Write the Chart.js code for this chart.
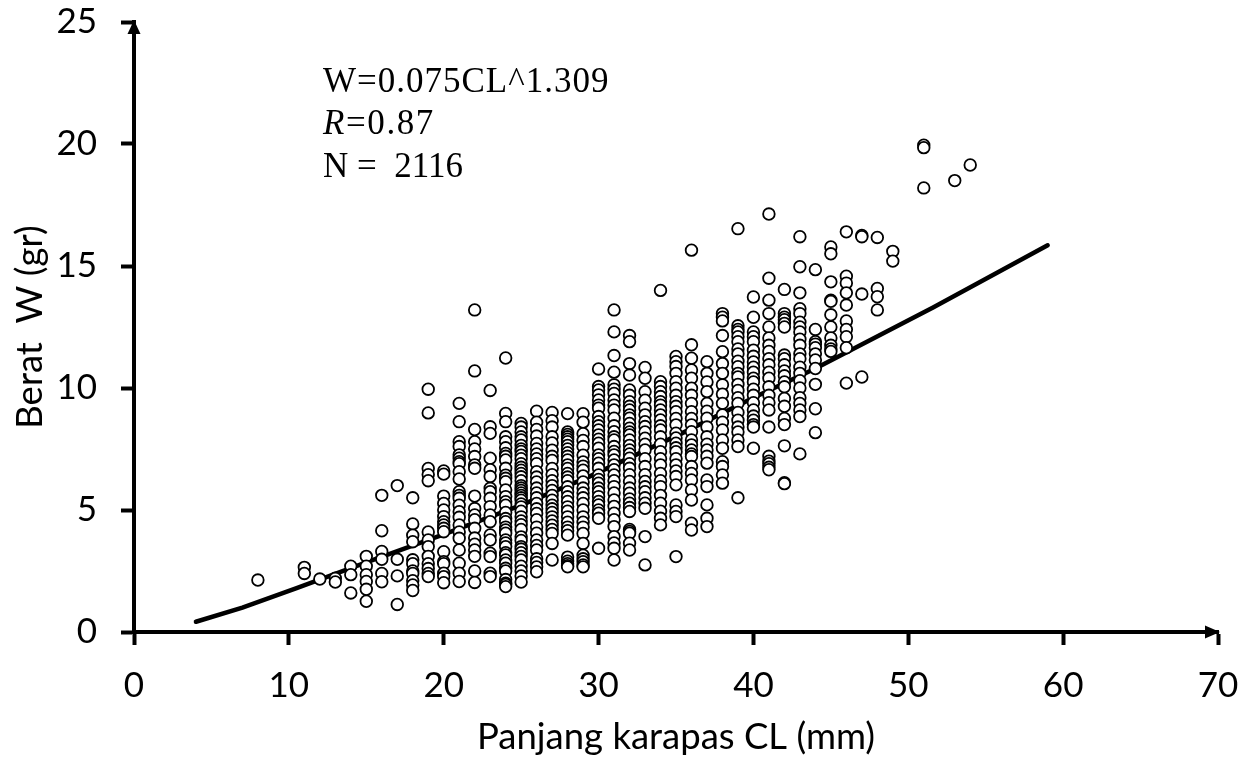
<!DOCTYPE html>
<html>
<head>
<meta charset="utf-8">
<title>Berat dan panjang karapas</title>
<script src="https://cdn.jsdelivr.net/npm/chart.js@4"></script>
<style>
    html, body { margin: 0; padding: 0; background: #fff; }
    #wrap { position: relative; width: 1239px; height: 759px; }
    canvas { display: block; }
    .note { position: absolute; left: 323px; font-family: "Liberation Serif", serif; font-size: 35px; line-height: 33px; color: #000; white-space: pre; }
</style>
</head>
<body>
<div id="wrap">
    <canvas id="lengthWeightChart" width="1239" height="759"></canvas>
    <div class="note" style="top:64px;letter-spacing:1px">W=0.075CL^1.309</div>
    <div class="note" style="top:106px;letter-spacing:1.6px"><i>R</i>=0.87</div>
    <div class="note" style="top:149px">N =  2116</div>
</div>
<script>
// CL columns, one weight list per carapace length
const lengths = [8, 11, 12, 13, 14, 15, 16, 17, 18, 19, 20, 21, 22, 23, 24, 25, 26, 27, 28, 29, 30, 31, 32, 33, 34, 35, 36, 37, 38, 39, 40, 41, 42, 43, 44, 45, 46, 47, 48, 49, 51, 53, 54];
const weights = [
    [2.13],
    [2.65, 2.4],
    [2.17],
    [2.2, 2.05],
    [2.7, 2.35, 1.6],
    [3.1, 2.7, 2.35, 2.07, 1.75, 1.26],
    [5.6, 4.15, 3.3, 2.98, 2.4, 2.06],
    [6.0, 2.98, 2.3, 1.13],
    [5.5, 4.43, 3.97, 3.7, 2.96, 2.8, 2.5, 2.4, 2.1, 1.93, 1.7],
    [9.95, 8.98, 6.7, 6.45, 6.2, 4.1, 3.77, 3.5, 3.1, 2.8, 2.6, 2.4, 2.27],
    [6.6, 6.47, 5.57, 5.27, 5.0, 4.73, 4.52, 4.39, 4.25, 4.11, 3.29, 2.88, 2.8, 2.41, 2.27, 2.02],
    [9.37, 8.62, 7.8, 7.6, 7.26, 7.12, 6.98, 6.9, 6.57, 6.27, 5.75, 5.6, 5.48, 5.2, 4.93, 4.7, 4.39, 4.1, 3.84, 3.36, 2.82, 2.41, 2.07],
    [13.2, 10.7, 8.3, 7.8, 7.5, 7.19, 6.85, 6.71, 5.57, 5.06, 4.8, 4.6, 4.25, 3.85, 3.6, 3.36, 3.1, 2.5, 2.03],
    [9.9, 8.41, 8.14, 7.12, 6.65, 6.37, 5.89, 5.75, 5.48, 5.14, 4.8, 4.52, 3.98, 3.77, 3.23, 3.09, 2.41, 2.27],
    [11.23, 8.96, 8.62, 8.0, 7.8, 7.55, 7.32, 7.2, 7.05, 6.71, 6.43, 6.3, 6.16, 5.82, 5.55, 5.34, 5.2, 4.9, 4.65, 4.52, 4.3, 4.18, 4.05, 3.77, 3.65, 3.5, 3.25, 3.16, 2.95, 2.82, 2.61, 2.5, 2.15, 2.0, 1.95, 1.86],
    [8.55, 8.4, 8.2, 8.0, 7.87, 7.65, 7.5, 7.4, 7.25, 7.1, 6.9, 6.75, 6.63, 6.5, 6.36, 6.2, 6.0, 5.9, 5.8, 5.7, 5.6, 5.5, 5.4, 5.25, 5.13, 4.95, 4.72, 4.55, 4.4, 4.2, 3.9, 3.75, 3.5, 3.4, 3.25, 3.1, 2.95, 2.7, 2.5, 2.3, 2.05],
    [9.05, 8.6, 8.3, 8.03, 7.73, 7.5, 7.3, 7.1, 6.9, 6.57, 6.35, 6.15, 5.9, 5.7, 5.5, 5.27, 5.05, 4.86, 4.6, 4.3, 4.05, 3.77, 3.55, 3.36, 3.0, 2.85, 2.67, 2.47],
    [9.0, 8.66, 8.4, 8.0, 7.75, 7.45, 7.2, 7.03, 6.7, 6.45, 6.2, 6.0, 5.8, 5.6, 5.4, 5.2, 5.05, 4.9, 4.72, 4.55, 4.38, 4.2, 4.04, 3.63, 2.95],
    [8.95, 8.2, 8.1, 8.0, 7.9, 7.8, 7.65, 7.5, 7.35, 7.2, 7.05, 6.85, 6.7, 6.5, 6.35, 6.2, 5.95, 5.75, 5.54, 5.35, 5.13, 4.95, 4.72, 4.5, 4.3, 4.15, 3.97, 3.07, 2.9, 2.8, 2.72, 2.67],
    [8.95, 8.6, 8.13, 7.85, 7.6, 7.25, 6.97, 6.8, 6.63, 6.4, 6.15, 5.9, 5.7, 5.5, 5.27, 5.0, 4.72, 4.5, 4.3, 4.04, 3.63, 3.15, 3.0, 2.88, 2.75, 2.67],
    [10.78, 10.06, 9.92, 9.72, 9.51, 9.3, 9.17, 8.83, 8.62, 8.45, 8.28, 8.08, 7.9, 7.74, 7.53, 7.26, 7.1, 6.92, 6.71, 6.44, 6.25, 6.1, 5.9, 5.75, 5.55, 5.35, 5.21, 5.0, 4.87, 4.66, 3.43],
    [13.2, 12.3, 11.33, 10.65, 10.13, 9.95, 9.78, 9.51, 9.3, 9.1, 8.76, 8.45, 8.21, 8.0, 7.87, 7.6, 7.4, 7.26, 7.05, 6.85, 6.65, 6.44, 6.2, 5.96, 5.7, 5.41, 5.15, 4.87, 4.6, 4.32, 3.91, 3.65, 3.43, 2.95],
    [12.15, 11.9, 11.0, 10.53, 9.92, 9.7, 9.44, 9.25, 9.1, 8.9, 8.76, 8.55, 8.35, 8.2, 8.08, 7.87, 7.65, 7.46, 7.3, 7.12, 6.9, 6.71, 6.45, 6.17, 5.9, 5.69, 5.45, 5.28, 5.1, 4.94, 4.2, 4.12, 4.05, 3.64, 3.36],
    [10.84, 10.4, 9.85, 9.5, 9.17, 8.9, 8.62, 8.42, 8.2, 7.94, 7.7, 7.46, 7.1, 6.78, 6.45, 6.17, 5.95, 5.75, 5.5, 5.28, 5.07, 3.91, 2.75],
    [14.0, 10.26, 10.06, 9.85, 9.65, 9.44, 9.3, 9.1, 8.9, 8.69, 8.45, 8.28, 8.0, 7.7, 7.39, 7.1, 6.85, 6.5, 6.2, 5.96, 5.6, 5.28, 4.95, 4.66, 4.39],
    [11.29, 11.08, 10.88, 10.6, 10.26, 9.99, 9.7, 9.44, 9.25, 9.03, 8.75, 8.49, 8.15, 7.95, 7.74, 7.55, 7.39, 7.1, 6.85, 6.6, 6.37, 6.03, 5.21, 4.94, 4.73, 3.09],
    [15.65, 11.77, 11.22, 10.74, 10.4, 9.99, 9.7, 9.37, 9.03, 8.75, 8.49, 8.21, 7.87, 7.67, 7.46, 7.3, 7.19, 6.78, 6.5, 6.23, 5.82, 5.41, 4.46, 4.18],
    [11.08, 10.6, 10.25, 9.85, 9.37, 9.05, 8.76, 8.4, 8.0, 7.7, 7.46, 7.2, 6.92, 6.23, 5.96, 5.21, 4.66, 4.32],
    [13.05, 12.9, 12.75, 12.15, 11.49, 11.0, 10.6, 10.13, 9.75, 9.37, 8.9, 8.6, 8.28, 7.87, 7.53, 6.98, 6.78, 6.44, 6.1],
    [16.53, 12.55, 12.4, 12.3, 12.1, 11.9, 11.6, 11.4, 11.1, 10.87, 10.6, 10.45, 10.15, 9.9, 9.6, 9.37, 9.0, 8.68, 8.4, 8.2, 7.87, 7.6, 5.5],
    [13.73, 12.9, 12.3, 12.1, 11.9, 11.55, 11.3, 11.07, 10.85, 10.65, 10.4, 10.25, 9.95, 9.7, 9.4, 9.1, 8.85, 8.68, 8.5, 8.4, 7.53],
    [17.13, 14.5, 13.6, 13.05, 12.5, 12.05, 11.75, 11.5, 11.2, 10.95, 10.65, 10.4, 10.05, 9.7, 9.4, 9.1, 8.4, 7.2, 7.0, 6.9, 6.75, 6.65],
    [14.04, 13.05, 12.9, 12.8, 12.65, 12.5, 11.35, 11.2, 10.95, 10.7, 10.5, 10.25, 10.05, 9.57, 9.25, 8.75, 8.5, 7.63, 6.12, 6.08],
    [16.2, 14.97, 13.9, 13.25, 13.05, 12.7, 12.5, 12.3, 12.0, 11.75, 11.4, 11.2, 10.85, 10.6, 10.3, 10.0, 9.6, 9.37, 9.1, 8.83, 7.3],
    [14.85, 12.4, 11.9, 11.8, 11.65, 11.4, 11.15, 10.8, 10.15, 9.15, 8.17],
    [15.78, 15.5, 14.35, 13.6, 13.55, 13.0, 12.5, 12.05, 11.75, 11.6, 11.5],
    [16.4, 14.58, 14.3, 13.9, 13.4, 12.75, 12.4, 12.1, 11.65, 10.2],
    [16.25, 16.2, 13.85, 10.45],
    [16.17, 14.08, 13.74, 13.2],
    [15.6, 15.2],
    [19.95, 19.85, 18.2],
    [18.5],
    [19.14]
];

// Fitted curve
const curveLengths = [4, 7, 10.5, 15, 20, 25, 29.4, 35.4, 40, 44, 51.6, 59];
const curveWeights = [0.42, 1.0, 1.8, 2.85, 4.0, 5.2, 6.37, 8.15, 9.6, 10.8, 13.3, 15.85];

const xTicks = [0, 10, 20, 30, 40, 50, 60, 70];
const yTicks = [0, 5, 10, 15, 20, 25];

const samplePoints = [];
lengths.forEach(function(cl, i) {
    weights[i].forEach(function(w) {
        samplePoints.push({ x: cl, y: w });
    });
});
const curvePoints = curveLengths.map(function(cl, i) {
    return { x: cl, y: curveWeights[i] };
});

// Arrow heads on the end of both axes
const axisArrows = {
    id: 'axisArrows',
    afterDraw: function(chart) {
        const c = chart.ctx;
        const a = chart.chartArea;
        c.save();
        c.fillStyle = '#000';
        c.beginPath();
        c.moveTo(a.left, a.top - 2);
        c.lineTo(a.left - 6.5, a.top + 12);
        c.lineTo(a.left + 6.5, a.top + 12);
        c.closePath();
        c.fill();
        c.beginPath();
        c.moveTo(a.right + 2, a.bottom);
        c.lineTo(a.right - 13, a.bottom - 6.5);
        c.lineTo(a.right - 13, a.bottom + 6.5);
        c.closePath();
        c.fill();
        c.restore();
    }
};

// Keep the plot box fixed, tick labels must not push it around
function noLabelPadding(axis) {
    axis.paddingTop = 0;
    axis.paddingBottom = 0;
    axis.paddingLeft = 0;
    axis.paddingRight = 0;
}

const tickFont = { family: 'Lato', size: 35 };
const titleFont = { family: 'Lato', size: 36.5 };

new Chart(document.getElementById('lengthWeightChart'), {
    type: 'scatter',
    data: {
        datasets: [{
            label: 'Sampel',
            data: samplePoints,
            order: 1,
            pointStyle: 'circle',
            pointRadius: 5.8,
            pointBorderWidth: 1.8,
            pointBackgroundColor: '#fff',
            pointBorderColor: '#000',
            showLine: false
        }, {
            label: 'W=0.075CL^1.309',
            type: 'line',
            data: curvePoints,
            order: 2,
            borderColor: '#000',
            borderWidth: 4.5,
            borderCapStyle: 'round',
            pointRadius: 0,
            tension: 0,
            fill: false
        }]
    },
    options: {
        responsive: false,
        animation: false,
        layout: { padding: { left: 0, top: 22, right: 21, bottom: 0 } },
        plugins: {
            legend: { display: false },
            tooltip: { enabled: false }
        },
        scales: {
            x: {
                type: 'linear',
                min: 0,
                max: 70,
                afterBuildTicks: function(axis) {
                    axis.ticks = xTicks.map(function(v) { return { value: v }; });
                },
                afterFit: function(axis) {
                    axis.height = 127;
                    noLabelPadding(axis);
                },
                border: { color: '#000', width: 4 },
                grid: { drawOnChartArea: false, color: '#000', tickLength: 13, tickWidth: 4 },
                ticks: { color: '#000', font: tickFont, padding: 20, maxRotation: 0 },
                title: { display: true, text: 'Panjang karapas CL (mm)', color: '#000', font: titleFont, padding: { top: 0, bottom: 0 } }
            },
            y: {
                min: 0,
                max: 25,
                afterBuildTicks: function(axis) {
                    axis.ticks = yTicks.map(function(v) { return { value: v }; });
                },
                afterFit: function(axis) {
                    axis.width = 134;
                    noLabelPadding(axis);
                },
                border: { color: '#000', width: 4 },
                grid: { drawOnChartArea: false, color: '#000', tickLength: 13, tickWidth: 4 },
                ticks: { color: '#000', font: tickFont, padding: 24 },
                title: { display: true, text: 'Berat  W (gr)', color: '#000', font: titleFont, padding: { top: 8, bottom: 0 } }
            }
        }
    },
    plugins: [axisArrows]
});
</script>
</body>
</html>
